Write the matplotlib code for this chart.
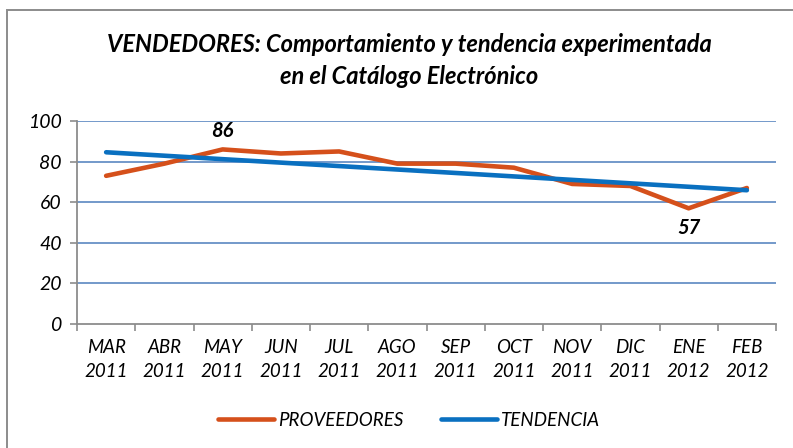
import matplotlib
matplotlib.use('Agg')

import matplotlib.pyplot as plt
from matplotlib.patches import Rectangle
import numpy as np

months = ['MAR', 'ABR', 'MAY', 'JUN', 'JUL', 'AGO',
          'SEP', 'OCT', 'NOV', 'DIC', 'ENE', 'FEB']
years = ['2011'] * 10 + ['2012'] * 2
proveedores = [73, 79, 86, 84, 85, 79, 79, 77, 69, 68, 57, 67]
# trend line (first and last month)
tendencia = [84.6, 65.9]
labelled = {2: '86', 10: '57'}

plt.rcParams['font.family'] = ['Lato', 'DejaVu Sans']

W, H = 793, 448
fig = plt.figure(figsize=(W / 100, H / 100), dpi=100)
ax = fig.add_axes([77 / W, 1 - 324 / H, (776 - 77) / W, (324 - 121) / H])

# outer chart frame, only top and left edges visible in the crop
fig.patches.append(Rectangle((7 / W, -0.2), 1.2, 1.2 - 10 / H,
                             transform=fig.transFigure, fill=False,
                             edgecolor='#8c8c8c', lw=1.4, zorder=0))

x = np.arange(len(months))
orange = '#D5501B'
blue = '#0A70C0'
grid_blue = '#5B87C1'

for v in range(20, 101, 20):
    ax.axhline(v, color=grid_blue, lw=1.2, zorder=1)

ax.plot(x, proveedores, color=orange, lw=3.3, solid_capstyle='round',
        solid_joinstyle='round', label='PROVEEDORES', zorder=3)
ax.plot([x[0], x[-1]], tendencia, color=blue, lw=3.3,
        solid_capstyle='round', label='TENDENCIA', zorder=4)

for i, txt in labelled.items():
    dy = 6 if proveedores[i] > 70 else -7
    ax.annotate(txt, (x[i], proveedores[i]), xytext=(0, dy),
                textcoords='offset points', ha='center',
                va='bottom' if dy > 0 else 'top',
                fontsize=14.5, fontweight='bold', fontstyle='italic')

ax.set_xlim(-0.5, len(months) - 0.5)
ax.set_ylim(0, 100)
ax.set_yticks(range(0, 101, 20))
ax.set_yticklabels([str(v) for v in range(0, 101, 20)],
                   fontsize=14, fontstyle='italic')
ax.set_xticks(x)
ax.set_xticklabels([m + '\n' + y for m, y in zip(months, years)],
                   fontsize=13.5, fontstyle='italic', linespacing=1.5)
ax.set_xticks(np.arange(-0.5, len(months), 1), minor=True)
ax.tick_params(axis='x', which='major', length=0, pad=11)
ax.tick_params(axis='x', which='minor', length=5, color='#8c8c8c', width=1.2)
ax.tick_params(axis='y', length=5, color='#8c8c8c', width=1.2, pad=6)

for s in ('top', 'right'):
    ax.spines[s].set_visible(False)
for s in ('left', 'bottom'):
    ax.spines[s].set_color('#8c8c8c')
    ax.spines[s].set_linewidth(1.3)

fig.text(0.516, 1 - 45 / H, 'VENDEDORES: Comportamiento y tendencia experimentada',
         ha='center', va='center', fontsize=17, fontweight='bold',
         fontstyle='italic')
fig.text(0.516, 1 - 76 / H, 'en el Catálogo Electrónico',
         ha='center', va='center', fontsize=17, fontweight='bold',
         fontstyle='italic')

leg = fig.legend(loc='center', bbox_to_anchor=(0.516, 1 - 420 / H), ncol=2,
                 frameon=False, handlelength=3.0, columnspacing=2.0,
                 handletextpad=0.2, prop={'size': 13.5, 'style': 'italic'})

fig.savefig('out.png', dpi=100)
